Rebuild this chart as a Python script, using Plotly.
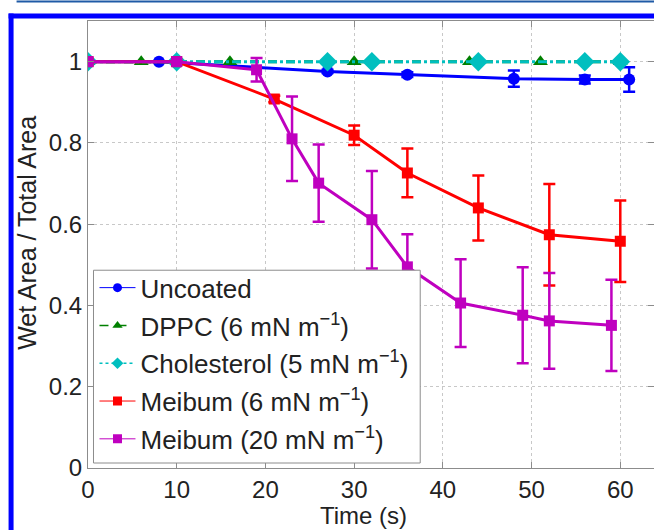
import plotly.graph_objects as go

# --- data ---
uncoated_t = [0, 8, 27, 36, 48, 56, 61]
uncoated_v = [1.0, 1.0, 0.976, 0.968, 0.958, 0.956, 0.956]
uncoated_e = [0, 0, 0.004, 0.006, 0.02, 0.01, 0.03]

dppc_t = [0, 6, 16, 30, 43, 51, 60]
dppc_v = [1.0, 1.0, 1.0, 1.0, 1.0, 1.0, 1.0]

chol_t = [0, 10, 27, 32, 44, 56, 60]
chol_v = [1.0, 1.0, 1.0, 1.0, 1.0, 1.0, 1.0]

meib6_t = [0, 10, 21, 30, 36, 44, 52, 60]
meib6_v = [1.0, 1.0, 0.908, 0.819, 0.726, 0.640, 0.574, 0.558]
meib6_e = [0, 0, 0.008, 0.024, 0.06, 0.08, 0.125, 0.10]

meib20_t = [0, 10, 19, 23, 26, 32, 36, 42, 49, 52, 59]
meib20_v = [1.0, 1.0, 0.980, 0.810, 0.701, 0.611, 0.495, 0.406, 0.376, 0.362, 0.351]
meib20_e = [0, 0, 0.029, 0.104, 0.095, 0.12, 0.08, 0.108, 0.118, 0.118, 0.112]

names = ["Uncoated", "DPPC (6 mN m<sup>−1</sup>)", "Cholesterol (5 mN m<sup>−1</sup>)",
         "Meibum (6 mN m<sup>−1</sup>)", "Meibum (20 mN m<sup>−1</sup>)"]

BLUE, GREEN, CYAN, RED, MAG = "#0000ff", "#008000", "#00bfbf", "#ff0000", "#bf00bf"

W, H = 654, 530
ML, MR, MT, MB = 87.5, 0, 20.5, 62
PW, PH = W - ML - MR, H - MT - MB


def px(x):  # pixel -> paper x
    return (x - ML) / PW


def py(y):  # pixel -> paper y
    return (H - MB - y) / PH


fig = go.Figure()


def err(e, c):
    return dict(type="data", array=e, visible=True, color=c, thickness=2.5, width=6)


fig.add_trace(go.Scatter(x=uncoated_t, y=uncoated_v, mode="lines+markers", showlegend=False,
                         line=dict(color=BLUE, width=3), error_y=err(uncoated_e, BLUE),
                         marker=dict(symbol="circle", size=12, color=BLUE)))
fig.add_trace(go.Scatter(x=dppc_t, y=dppc_v, mode="lines+markers", showlegend=False,
                         line=dict(color=GREEN, width=3, dash="dash"),
                         marker=dict(symbol="triangle-up", size=13, color=GREEN)))
fig.add_trace(go.Scatter(x=chol_t, y=chol_v, mode="lines+markers", showlegend=False,
                         line=dict(color=CYAN, width=3, dash="dashdot"),
                         marker=dict(symbol="diamond", size=15, color=CYAN)))
fig.add_trace(go.Scatter(x=meib6_t, y=meib6_v, mode="lines+markers", showlegend=False,
                         line=dict(color=RED, width=3), error_y=err(meib6_e, RED),
                         marker=dict(symbol="square", size=11, color=RED)))
fig.add_trace(go.Scatter(x=meib20_t, y=meib20_v, mode="lines+markers", showlegend=False,
                         line=dict(color=MAG, width=3), error_y=err(meib20_e, MAG),
                         marker=dict(symbol="square", size=11, color=MAG)))

# legend entries drawn thin, like the original
leg = [(BLUE, "solid", "circle"), (GREEN, "dash", "triangle-up"), (CYAN, "dot", "diamond"),
       (RED, "solid", "square"), (MAG, "solid", "square")]
for i, ((c, d, s), n) in enumerate(zip(leg, names)):
    fig.add_trace(go.Scatter(x=[None], y=[None], mode="lines+markers", name=n,
                             legendgroup=f"g{i}",
                             line=dict(color=c, width=1.5 if d != "solid" else 1, dash=d),
                             marker=dict(symbol=s, size=9, color=c)))

axis = dict(showline=True, linecolor="#8c8c8c", linewidth=1, mirror="ticks",
            ticks="inside", ticklen=6, tickcolor="#8c8c8c",
            showgrid=True, gridcolor="#c8c8c8", griddash="dot", gridwidth=1,
            zeroline=False, tickfont=dict(size=24, color="#222"))

fig.update_xaxes(range=[0, 63.8], tickvals=[0, 10, 20, 30, 40, 50, 60], **axis)
fig.update_yaxes(range=[0, 1.1], tickvals=[0, 0.2, 0.4, 0.6, 0.8, 1],
                 ticktext=["0", "0.2", "0.4", "0.6", "0.8", "1"], **axis)

frame = dict(color="#0000ff", width=5)
fig.update_layout(
    width=W, height=H,
    margin=dict(l=ML, r=MR, t=MT, b=MB),
    paper_bgcolor="white", plot_bgcolor="white",
    font=dict(family="Liberation Sans, Arial, sans-serif", color="#222"),
    legend=dict(x=px(94), y=py(264), xanchor="left", yanchor="top",
                bgcolor="rgba(0,0,0,0)", borderwidth=0,
                font=dict(size=26, color="#222"), tracegroupgap=1,
                itemwidth=36),
    annotations=[
        dict(text="Time (s)", xref="paper", yref="paper", x=px(363), y=py(516),
             xanchor="center", yanchor="middle",
             showarrow=False, font=dict(size=24, color="#222")),
        dict(text="Wet Area / Total Area", xref="paper", yref="paper", x=px(27), y=py(233),
             xanchor="center", yanchor="middle",
             textangle=-90, showarrow=False, font=dict(size=25, color="#222")),
    ],
    shapes=[
        # legend box
        dict(type="rect", xref="paper", yref="paper", x0=px(93), y0=py(270),
             x1=px(420), y1=py(463), fillcolor="white",
             line=dict(color="#8c8c8c", width=1), layer="above"),
        dict(type="line", xref="paper", yref="paper", x0=px(8), y0=py(15.5),
             x1=px(W), y1=py(15.5), line=frame),
        dict(type="line", xref="paper", yref="paper", x0=px(10.5), y0=py(13),
             x1=px(10.5), y1=py(H), line=frame),
        dict(type="line", xref="paper", yref="paper", x0=px(16), y0=py(1),
             x1=px(W), y1=py(1), line=dict(color="#1f5aa6", width=2)),
    ],
)

fig.write_html("out.html", config={"displayModeBar": False},
               post_script="document.body.style.margin='0';")
